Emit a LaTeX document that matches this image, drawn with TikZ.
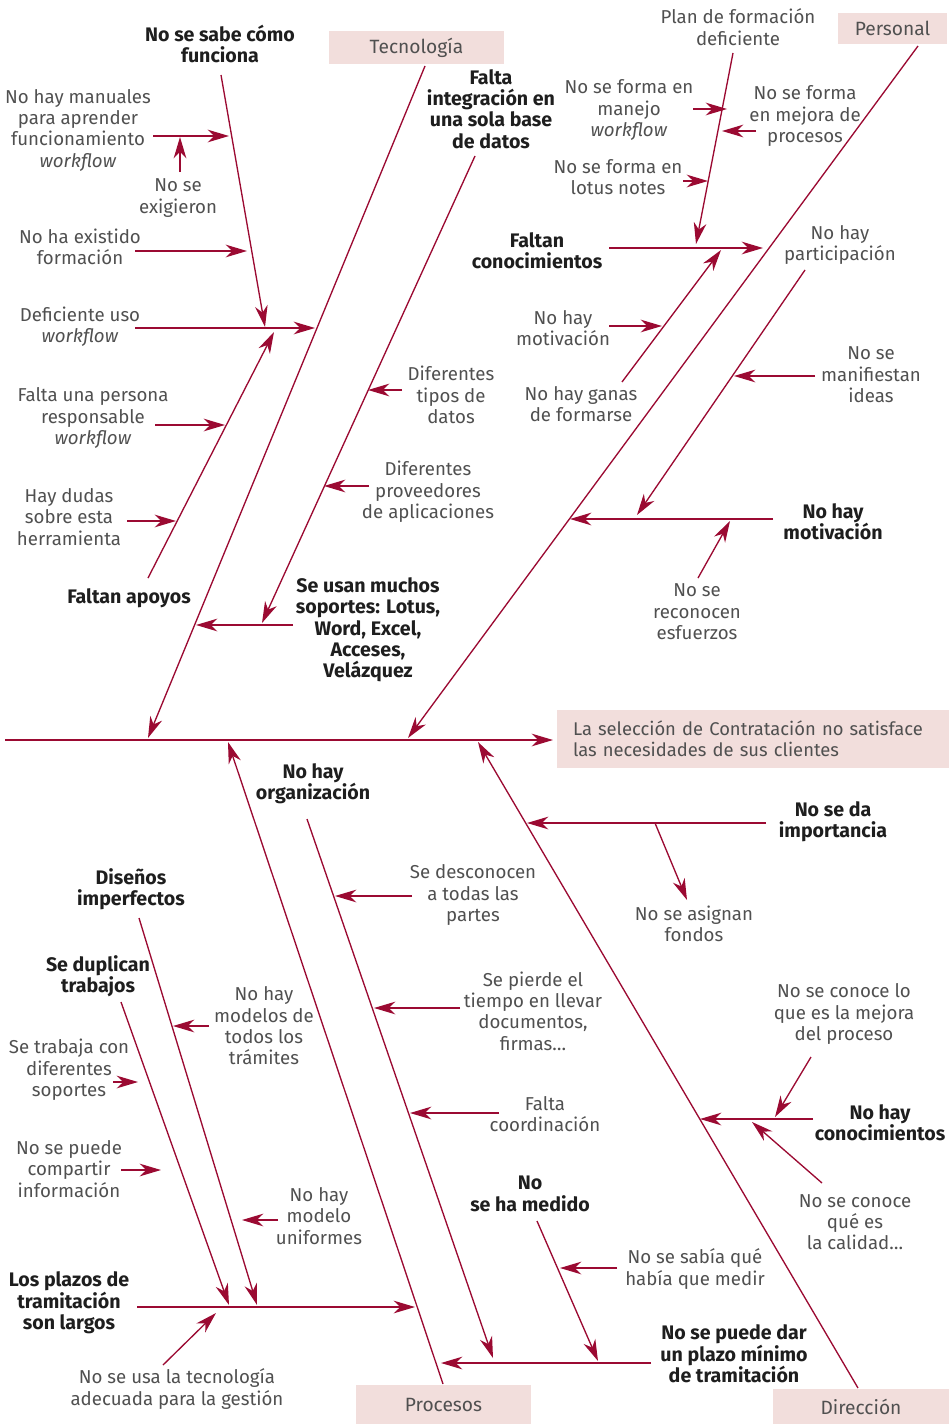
\documentclass[tikz,border=0pt]{standalone}
\usepackage{fontspec}
\setmainfont{Fira Sans}
\usetikzlibrary{arrows.meta}
\definecolor{fcred}{HTML}{9B0A32}
\definecolor{catpink}{HTML}{F2DEDC}
\definecolor{txtgray}{HTML}{505050}
\definecolor{txtdark}{HTML}{1E1E1E}
\tikzset{
  bone/.style={line width=1pt, draw=fcred},
  arr/.style={bone, -{Stealth[length=16pt,width=9.5pt,inset=5pt]}},
  lbl/.style={align=center, inner sep=0pt, text=txtgray, font=\fontsize{14}{16}\selectfont},
  blbl/.style={lbl, text=txtdark, font=\fontsize{14.7}{16}\selectfont\bfseries},
  cat/.style={fill=catpink, inner sep=0pt, text=txtgray, font=\fontsize{14.4}{16}\selectfont}
}
\begin{document}
\begin{tikzpicture}[x=0.75pt,y=-0.75pt]
\useasboundingbox (0,0) rectangle (949,1424);
% ---------- category boxes and effect
\node[cat, minimum width=131.25pt, minimum height=24.75pt] (tec) at (416.5,47.5) {Tecnología};
\node[cat, minimum width=81.75pt, minimum height=23.25pt] (per) at (892.5,28.5) {Personal};
\node[cat, minimum width=131.25pt, minimum height=29.25pt] (pro) at (443.5,1404.5) {Procesos};
\node[cat, minimum width=132pt, minimum height=26.25pt] (dir) at (861,1406.5) {Dirección};
\node[cat, font=\fontsize{13.8}{16}\selectfont, minimum width=294pt, minimum height=43.5pt, text width=270pt, align=left, inner xsep=12pt] (eff) at (753,739) {La selección de Contratación no satisface\\las necesidades de sus clientes};
% ---------- labels: Tecnología
\node[blbl] (lta) at (220,44) {No se sabe cómo\\funciona};
\node[lbl] (ltb) at (78,130) {No hay manuales\\para aprender\\funcionamiento\\\textit{workflow}};
\node[lbl] (ltc) at (178,198) {No se\\exigieron};
\node[lbl] (ltd) at (80,247) {No ha existido\\formación};
\node[lbl] (lte) at (80,327) {Deficiente uso\\\textit{workflow}};
\node[lbl] (ltg) at (93,418) {Falta una persona\\responsable\\\textit{workflow}};
\node[lbl] (lth) at (69,517) {Hay dudas\\sobre esta\\herramienta};
\node[blbl] (ltf) at (129,598) {Faltan apoyos};
\node[blbl] (lti) at (491,109) {Falta\\integración en\\una sola base\\de datos};
\node[lbl] (ltk) at (451,395) {Diferentes\\tipos de\\datos};
\node[lbl] (ltl) at (428,492) {Diferentes\\proveedores\\de aplicaciones};
\node[blbl] (ltj) at (368,630) {Se usan muchos\\soportes: Lotus,\\Word, Excel,\\Acceses,\\Velázquez};
% ---------- labels: Personal
\node[lbl] (lpa) at (738,27) {Plan de formación\\deficiente};
\node[lbl] (lpb) at (629,110) {No se forma en\\manejo\\\textit{workflow}};
\node[lbl] (lpc) at (805,116) {No se forma\\en mejora de\\procesos};
\node[lbl] (lpd) at (618,177) {No se forma en\\lotus notes};
\node[blbl] (lpe) at (537,251) {Faltan\\conocimientos};
\node[lbl] (lpf) at (563,328) {No hay\\motivación};
\node[lbl] (lpg) at (581,404) {No hay ganas\\de formarse};
\node[lbl] (lph) at (840,245) {No hay\\participación};
\node[lbl] (lpi) at (871,375) {No se\\manifiestan\\ideas};
\node[blbl] (lpj) at (833,522) {No hay\\motivación};
\node[lbl] (lpk) at (697,612) {No se\\reconocen\\esfuerzos};
% ---------- labels: Procesos
\node[blbl] (lra) at (313,784) {No hay\\organización};
\node[lbl] (lrb) at (473,895) {Se desconocen\\a todas las\\partes};
\node[lbl] (lrc) at (533,1011) {Se pierde el\\tiempo en llevar\\documentos,\\firmas…};
\node[lbl] (lrd) at (545,1114) {Falta\\coordinación};
\node[blbl] (lrf) at (530,1194) {No\\se ha medido};
\node[lbl] (lrg) at (695,1269) {No se sabía qué\\había que medir};
\node[blbl] (lre) at (734,1354) {No se puede dar\\un plazo mínimo\\de tramitación};
\node[blbl] (lrj) at (131,889) {Diseños\\imperfectos};
\node[blbl] (lrm) at (98,976) {Se duplican\\trabajos};
\node[lbl] (lrk) at (264,1026) {No hay\\modelos de\\todos los\\trámites};
\node[lbl] (lrn) at (69,1070) {Se trabaja con\\diferentes\\soportes};
\node[lbl] (lro) at (69,1169) {No se puede\\compartir\\información};
\node[lbl] (lrl) at (319,1216) {No hay\\modelo\\uniformes};
\node[blbl] (lrh) at (69,1303) {Los plazos de\\tramitación\\son largos};
\node[lbl] (lri) at (177,1389) {No se usa la tecnología\\adecuada para la gestión};
% ---------- labels: Dirección
\node[blbl] (lda) at (833,822) {No se da\\importancia};
\node[lbl] (ldb) at (694,924) {No se asignan\\fondos};
\node[lbl] (ldd) at (844,1014) {No se conoce lo\\que es la mejora\\del proceso};
\node[blbl] (ldc) at (880,1123) {No hay\\conocimientos};
\node[lbl] (lde) at (855,1222) {No se conoce\\qué es\\la calidad…};
% ---------- coordinates
\coordinate (sp0) at (5,740);   \coordinate (sp1) at (553,740);
\coordinate (t0) at (425,66);   \coordinate (t1) at (148,738);
\coordinate (p0) at (918,46);   \coordinate (p1) at (408,738);
\coordinate (r0) at (443,1384); \coordinate (r1) at (228,742);
\coordinate (d0) at (858,1388); \coordinate (d1) at (478,742);
% Tecnología
\coordinate (ta0) at (221,75);  \coordinate (ta1) at (265,327);
\coordinate (tb0) at (153,136); \coordinate (tb1) at (229,136);
\coordinate (tc0) at (180,172); \coordinate (tc1) at (180,137);
\coordinate (td0) at (135,251); \coordinate (td1) at (247,251);
\coordinate (te0) at (135,328); \coordinate (te1) at (315,328);
\coordinate (tf0) at (148,578); \coordinate (tf1) at (274,332);
\coordinate (tg0) at (155,425); \coordinate (tg1) at (225,425);
\coordinate (th0) at (127,521); \coordinate (th1) at (176,521);
\coordinate (ti0) at (475,156); \coordinate (ti1) at (262,623);
\coordinate (tj0) at (293,625); \coordinate (tj1) at (196,625);
\coordinate (tk0) at (402,390); \coordinate (tk1) at (368,390);
\coordinate (tl0) at (369,486); \coordinate (tl1) at (324,486);
% Personal
\coordinate (pa0) at (733,53);  \coordinate (pa1) at (696,244);
\coordinate (pb0) at (693,109); \coordinate (pb1) at (727,109);
\coordinate (pc0) at (756,131); \coordinate (pc1) at (722,131);
\coordinate (pd0) at (683,181); \coordinate (pd1) at (708,181);
\coordinate (pe0) at (609,248); \coordinate (pe1) at (763,248);
\coordinate (pf0) at (609,326); \coordinate (pf1) at (662,326);
\coordinate (pg0) at (622,382); \coordinate (pg1) at (721,250);
\coordinate (ph0) at (805,270); \coordinate (ph1) at (637,515);
\coordinate (pi0) at (815,376); \coordinate (pi1) at (734,376);
\coordinate (pj0) at (773,519); \coordinate (pj1) at (570,519);
\coordinate (pk0) at (698,578); \coordinate (pk1) at (730,521);
% Dirección
\coordinate (da0) at (766,823); \coordinate (da1) at (527,823);
\coordinate (db0) at (655,823); \coordinate (db1) at (687,900);
\coordinate (dc0) at (813,1119);\coordinate (dc1) at (700,1119);
\coordinate (dd0) at (811,1057);\coordinate (dd1) at (775,1117);
\coordinate (de0) at (822,1183);\coordinate (de1) at (752,1122);
% Procesos
\coordinate (ra0) at (307,819);  \coordinate (ra1) at (493,1358);
\coordinate (rb0) at (412,896);  \coordinate (rb1) at (335,896);
\coordinate (rc0) at (460,1008); \coordinate (rc1) at (374,1008);
\coordinate (rd0) at (499,1113); \coordinate (rd1) at (410,1113);
\coordinate (re0) at (651,1363); \coordinate (re1) at (441,1363);
\coordinate (rf0) at (537,1221); \coordinate (rf1) at (598,1361);
\coordinate (rg0) at (617,1268); \coordinate (rg1) at (560,1268);
\coordinate (rh0) at (137,1307); \coordinate (rh1) at (415,1307);
\coordinate (ri0) at (163,1365); \coordinate (ri1) at (216,1313);
\coordinate (rj0) at (139,918);  \coordinate (rj1) at (257,1305);
\coordinate (rk0) at (209,1026); \coordinate (rk1) at (173,1026);
\coordinate (rl0) at (278,1220); \coordinate (rl1) at (242,1220);
\coordinate (rm0) at (121,1002); \coordinate (rm1) at (229,1305);
\coordinate (rn0) at (113,1082); \coordinate (rn1) at (138,1082);
\coordinate (ro0) at (121,1170); \coordinate (ro1) at (161,1170);
% ---------- connectors
\foreach \a in {sp,t,p,r,d}{\draw[arr] (\a0) -- (\a1);}
\foreach \a in {ta,tb,tc,td,te,tf,tg,th,ti,tj,tk,tl,
                pa,pb,pc,pd,pe,pf,pg,ph,pi,pj,pk,
                da,db,dc,dd,de,
                ra,rb,rc,rd,re,rf,rg,rh,ri,rj,rk,rl,rm,rn,ro}{\draw[arr] (\a0) -- (\a1);}
\end{tikzpicture}
\end{document}
